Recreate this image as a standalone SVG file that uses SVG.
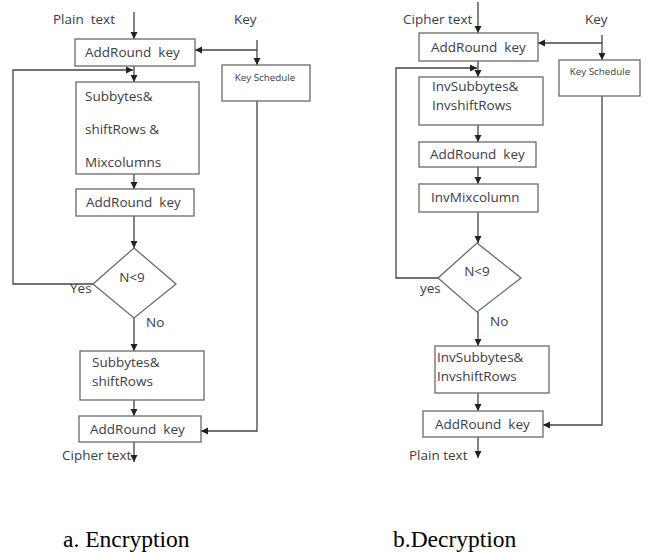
<svg xmlns="http://www.w3.org/2000/svg" width="651" height="553" viewBox="0 0 651 553">
<style>
.box{fill:#fff;stroke:#6a6a6a;stroke-width:1.3}
.ln{fill:none;stroke:#444;stroke-width:1.3}
.t{font-family:"Open Sans","DejaVu Sans",sans-serif;font-size:13.5px;fill:#3c3c48;white-space:pre}
.s{font-family:"Open Sans","DejaVu Sans",sans-serif;font-size:9.8px;fill:#3c3c48;text-anchor:middle}
.cap{font-family:"Liberation Serif",serif;font-size:23.5px;fill:#000}
</style>
<defs>
<marker id="ar" markerUnits="userSpaceOnUse" markerWidth="8" markerHeight="8" refX="7" refY="4" orient="auto">
<path d="M0,0.5 L7,4 L0,7.5 z" fill="#222"/>
</marker>
</defs>
<rect width="651" height="553" fill="#fff"/>
<g id="connectors">
<line class="ln" x1="134" y1="12" x2="134" y2="39" marker-end="url(#ar)"/>
<line class="ln" x1="257" y1="40" x2="257" y2="65" marker-end="url(#ar)"/>
<line class="ln" x1="257" y1="50" x2="195" y2="50" marker-end="url(#ar)"/>
<line class="ln" x1="134" y1="66" x2="134" y2="82" marker-end="url(#ar)"/>
<polyline class="ln" points="93,284 13,284 13,70 133,70" marker-end="url(#ar)"/>
<line class="ln" x1="134" y1="174" x2="134" y2="189" marker-end="url(#ar)"/>
<line class="ln" x1="134" y1="216" x2="134" y2="248" marker-end="url(#ar)"/>
<line class="ln" x1="134" y1="318" x2="134" y2="351" marker-end="url(#ar)"/>
<line class="ln" x1="134" y1="400" x2="134" y2="416" marker-end="url(#ar)"/>
<polyline class="ln" points="257,101 257,431 201,431" marker-end="url(#ar)"/>
<line class="ln" x1="134" y1="442" x2="134" y2="462" marker-end="url(#ar)"/>
<line class="ln" x1="478" y1="2" x2="478" y2="33" marker-end="url(#ar)"/>
<line class="ln" x1="602" y1="35" x2="602" y2="60" marker-end="url(#ar)"/>
<line class="ln" x1="602" y1="43" x2="538" y2="43" marker-end="url(#ar)"/>
<line class="ln" x1="478" y1="61" x2="478" y2="77" marker-end="url(#ar)"/>
<polyline class="ln" points="438,278 396,278 396,68 477,68" marker-end="url(#ar)"/>
<line class="ln" x1="478" y1="125" x2="478" y2="142" marker-end="url(#ar)"/>
<line class="ln" x1="478" y1="167" x2="478" y2="184" marker-end="url(#ar)"/>
<line class="ln" x1="478" y1="212" x2="478" y2="243" marker-end="url(#ar)"/>
<line class="ln" x1="478" y1="312" x2="478" y2="346" marker-end="url(#ar)"/>
<line class="ln" x1="478" y1="393" x2="478" y2="411" marker-end="url(#ar)"/>
<polyline class="ln" points="602,96 602,425 543,425" marker-end="url(#ar)"/>
<line class="ln" x1="478" y1="437" x2="478" y2="458" marker-end="url(#ar)"/>
</g>
<g id="enc-plain"><text class="t" x="53" y="24">Plain  text</text></g>
<g id="enc-key"><text class="t" x="234" y="24">Key</text></g>
<g id="enc-add1"><rect class="box" x="75" y="39" width="120" height="27"/><text class="t" x="85" y="57">AddRound  key</text></g>
<g id="enc-ks"><rect class="box" x="222" y="65" width="88" height="36"/><text class="s" x="265" y="81">Key Schedule</text></g>
<g id="enc-sub"><rect class="box" x="76" y="82" width="123" height="92"/>
<text class="t" x="85" y="101">Subbytes&amp;</text>
<text class="t" x="85" y="134">shiftRows &amp;</text>
<text class="t" x="85" y="167">Mixcolumns</text></g>
<g id="enc-add2"><rect class="box" x="76" y="189" width="118" height="27"/><text class="t" x="86" y="207">AddRound  key</text></g>
<g id="enc-dec"><polygon class="box" points="134,248 176,284 134,318 93,284"/>
<text class="t" x="132" y="282" text-anchor="middle">N&lt;9</text></g>
<g id="enc-yes"><text class="t" x="70" y="293">Yes</text></g>
<g id="enc-no"><text class="t" x="146" y="327">No</text></g>
<g id="enc-sub2"><rect class="box" x="80" y="351" width="124" height="49"/>
<text class="t" x="92" y="367">Subbytes&amp;</text>
<text class="t" x="92" y="386">shiftRows</text></g>
<g id="enc-add3"><rect class="box" x="79" y="416" width="122" height="26"/><text class="t" x="90" y="434">AddRound  key</text></g>
<g id="enc-out"><text class="t" x="62" y="460">Cipher text</text></g>
<g id="dec-cipher"><text class="t" x="403" y="24">Cipher text</text></g>
<g id="dec-key"><text class="t" x="585" y="24">Key</text></g>
<g id="dec-add1"><rect class="box" x="419" y="33" width="119" height="28"/><text class="t" x="431" y="52">AddRound  key</text></g>
<g id="dec-ks"><rect class="box" x="559" y="60" width="81" height="36"/><text class="s" x="600" y="75">Key Schedule</text></g>
<g id="dec-sub"><rect class="box" x="419" y="77" width="124" height="48"/>
<text class="t" x="432" y="91">InvSubbytes&amp;</text>
<text class="t" x="432" y="110">InvshiftRows</text></g>
<g id="dec-add2"><rect class="box" x="419" y="142" width="117" height="25"/><text class="t" x="430" y="159">AddRound  key</text></g>
<g id="dec-mix"><rect class="box" x="419" y="184" width="119" height="28"/><text class="t" x="431" y="202">InvMixcolumn</text></g>
<g id="dec-dec"><polygon class="box" points="477,243 521,278 477,312 438,278"/>
<text class="t" x="477" y="276" text-anchor="middle">N&lt;9</text></g>
<g id="dec-yes"><text class="t" x="420" y="293">yes</text></g>
<g id="dec-no"><text class="t" x="490" y="326">No</text></g>
<g id="dec-sub2"><rect class="box" x="435" y="346" width="114" height="47"/>
<text class="t" x="437" y="362">InvSubbytes&amp;</text>
<text class="t" x="437" y="381">InvshiftRows</text></g>
<g id="dec-add3"><rect class="box" x="423" y="411" width="120" height="26"/><text class="t" x="435" y="429">AddRound  key</text></g>
<g id="dec-out"><text class="t" x="409" y="460">Plain text</text></g>
<text class="cap" x="63" y="547">a. Encryption</text>
<text class="cap" x="393" y="547">b.Decryption</text>
</svg>
